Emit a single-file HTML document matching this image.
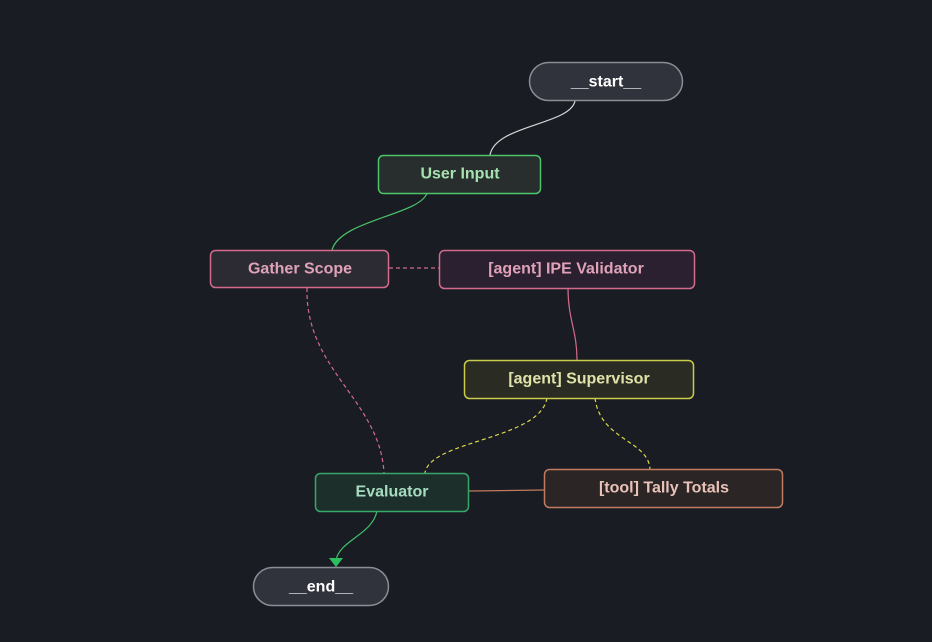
<!DOCTYPE html>
<html><head><meta charset="utf-8"><style>
html,body{margin:0;padding:0;background:#1a1c23;}
svg{display:block;}
text{font-family:"Liberation Sans",sans-serif;font-size:16px;font-weight:bold;text-anchor:middle;dominant-baseline:central;}
</style></head><body>
<svg width="932" height="642" viewBox="0 0 932 642">
<rect width="932" height="642" fill="#1a1c23"/>
<g fill="none" stroke-width="1.2">
<path d="M575 101 C570 125 495 125 490 155" stroke="#d8d8d8"/>
<path d="M427 193 C420 215 340 220 332 250" stroke="#4cc46a"/>
<path d="M389 268 L439 268" stroke="#d46a8c" stroke-dasharray="4 3"/>
<path d="M307 288 C305 370 380 400 384 473" stroke="#d46a8c" stroke-dasharray="4 3"/>
<path d="M568 288 C568 320 577 330 577 360" stroke="#d46a8c"/>
<path d="M547 398 C540 440 430 440 425 473" stroke="#d8d84a" stroke-dasharray="4 3"/>
<path d="M595 398 C600 440 648 440 650 469" stroke="#d8d84a" stroke-dasharray="4 3"/>
<path d="M469 491 L545 490" stroke="#c07a5e"/>
<path d="M377 511 C372 535 340 540 336 560" stroke="#3cc46a"/>
</g>
<polygon points="329,558 343,558 336,567" fill="#2fbf63"/>
<rect x="529.5" y="62.5" width="153" height="38" rx="19" fill="#30333b" stroke="#8a8d94" stroke-width="1.5"/>
<text x="606" y="82" fill="#fff">__start__</text>
<rect x="378.5" y="155.5" width="162" height="38" rx="5" fill="#282e2e" stroke="#4cc46a" stroke-width="1.5"/>
<text x="460" y="174" fill="#a6e2b0">User Input</text>
<rect x="210.5" y="250.5" width="178" height="37" rx="5" fill="#2c2b33" stroke="#d46a8c" stroke-width="1.5"/>
<text x="300" y="269" fill="#e0a2b8">Gather Scope</text>
<rect x="439.5" y="250.5" width="255" height="38" rx="5" fill="#2a2030" stroke="#d46a8c" stroke-width="1.5"/>
<text x="566" y="269" fill="#e0a2b8">[agent] IPE Validator</text>
<rect x="464.5" y="360.5" width="229" height="38" rx="5" fill="#2a2c24" stroke="#c8cc4a" stroke-width="1.5"/>
<text x="579" y="379" fill="#e0e2a8">[agent] Supervisor</text>
<rect x="315.5" y="473.5" width="153" height="38" rx="5" fill="#1d2f2b" stroke="#36a86a" stroke-width="1.5"/>
<text x="392" y="492" fill="#a6dcc0">Evaluator</text>
<rect x="544.5" y="469.5" width="238" height="38" rx="5" fill="#2c2526" stroke="#c07a5e" stroke-width="1.5"/>
<text x="664" y="488" fill="#e8c2b6">[tool] Tally Totals</text>
<rect x="253.5" y="567.5" width="135" height="38" rx="19" fill="#30333b" stroke="#8a8d94" stroke-width="1.5"/>
<text x="321" y="587" fill="#fff">__end__</text>
</svg>
</body></html>
